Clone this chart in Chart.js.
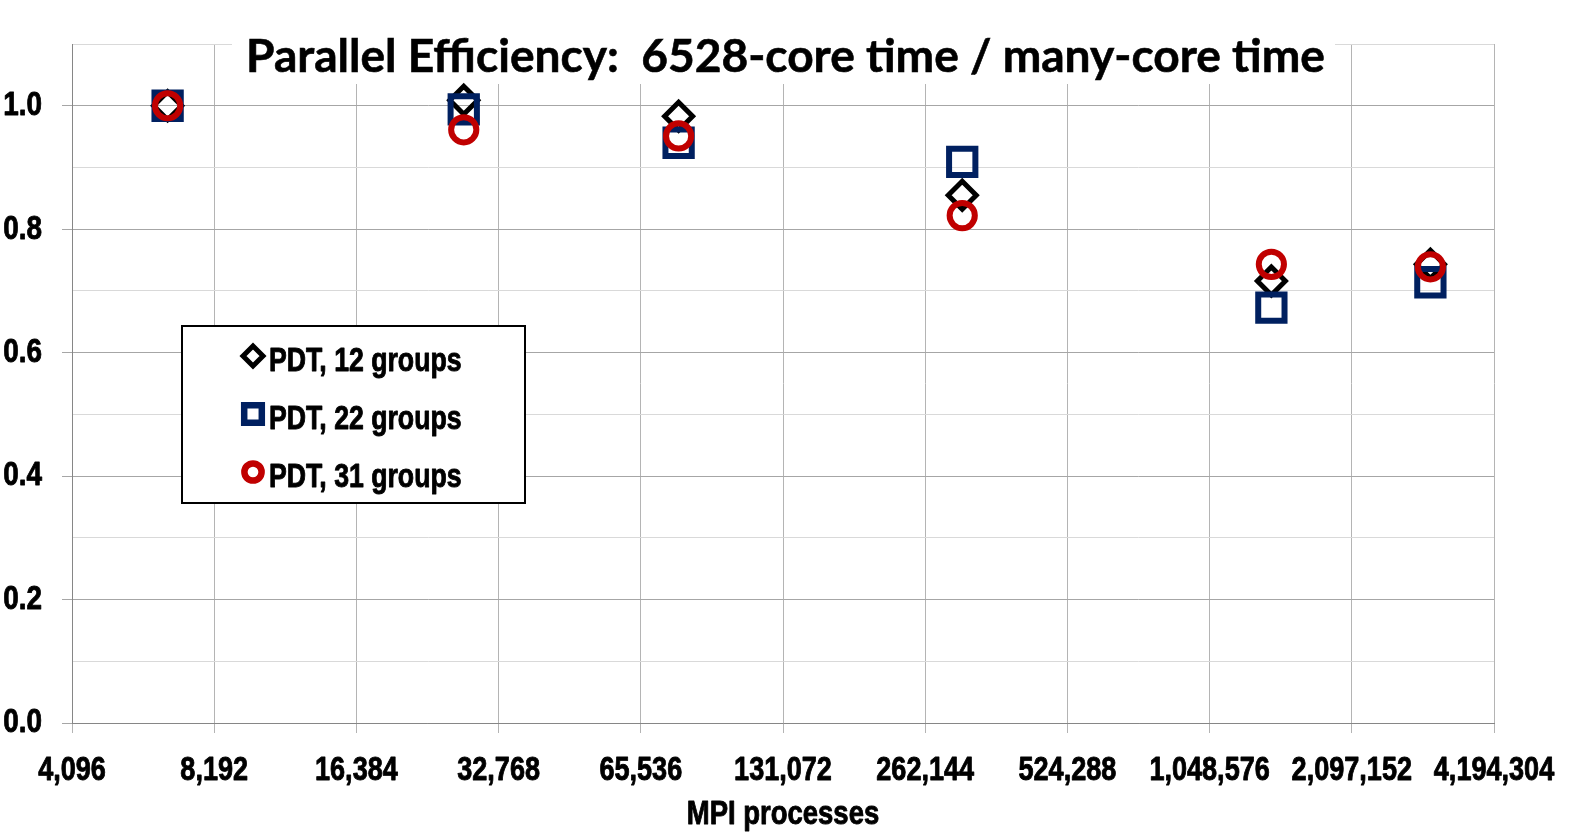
<!DOCTYPE html>
<html>
<head>
<meta charset="utf-8">
<script src="https://cdn.jsdelivr.net/npm/chart.js@4.4.1/dist/chart.umd.min.js"></script>
<style>
  html, body { margin: 0; padding: 0; background: #ffffff; }
  #wrap { width: 1572px; height: 835px; }
</style>
</head>
<body>
<div id="wrap"><canvas id="c" width="1572" height="835"></canvas></div>
<script>
// ---- data ----
const chartTitle = 'Parallel Efficiency:  6528-core time / many-core time';
const xAxisTitle = 'MPI processes';
const xTickValues = [4096, 8192, 16384, 32768, 65536, 131072, 262144, 524288, 1048576, 2097152, 4194304];
const yTickValues = [0, 0.1, 0.2, 0.3, 0.4, 0.5, 0.6, 0.7, 0.8, 0.9, 1.0, 1.1];
const mpiProcesses = [6528, 27648, 78800, 314000, 1417000, 3076000];
const seriesNames = ['PDT, 12 groups', 'PDT, 22 groups', 'PDT, 31 groups'];
const eff12 = [1.000, 1.009, 0.983, 0.855, 0.716, 0.743];
const eff22 = [1.000, 0.994, 0.940, 0.909, 0.673, 0.714];
const eff31 = [1.000, 0.961, 0.951, 0.822, 0.743, 0.739];

// Arial-Narrow look: Liberation Sans Bold compressed horizontally
const NARROW = "'Liberation Sans', Arial, sans-serif";
const NARROW_SX = 0.82;
(function () {
  const P = CanvasRenderingContext2D.prototype;
  const origFill = P.fillText, origMeasure = P.measureText, origStroke = P.strokeText;
  P.fillText = function (text, x, y, maxWidth) {
    if (this.font.indexOf('Liberation Sans') >= 0) {
      this.save();
      this.translate(x, y);
      this.scale(NARROW_SX, 1);
      origFill.call(this, text, 0, 0);
      this.strokeStyle = this.fillStyle;
      this.lineWidth = 0.9;
      this.lineJoin = 'round';
      origStroke.call(this, text, 0, 0);
      this.restore();
    } else if (maxWidth === undefined) {
      origFill.call(this, text, x, y);
    } else {
      origFill.call(this, text, x, y, maxWidth);
    }
  };
  P.measureText = function (text) {
    const m = origMeasure.call(this, text);
    if (this.font.indexOf('Liberation Sans') >= 0) {
      return {
        width: m.width * NARROW_SX,
        actualBoundingBoxLeft: m.actualBoundingBoxLeft * NARROW_SX,
        actualBoundingBoxRight: m.actualBoundingBoxRight * NARROW_SX,
        actualBoundingBoxAscent: m.actualBoundingBoxAscent,
        actualBoundingBoxDescent: m.actualBoundingBoxDescent,
        fontBoundingBoxAscent: m.fontBoundingBoxAscent,
        fontBoundingBoxDescent: m.fontBoundingBoxDescent
      };
    }
    return m;
  };
})();

const BLACK = '#000000', NAVY = '#002060', RED = '#C00000';

function pts(ys) { return mpiProcesses.map((x, i) => ({ x: x, y: ys[i] })); }
function isMajor(v) { return Math.round(v * 10) % 2 === 0; }

function drawMarker(ctx, style, x, y, r, lw, color) {
  ctx.save();
  ctx.strokeStyle = color;
  ctx.lineWidth = lw;
  ctx.fillStyle = '#ffffff';
  ctx.beginPath();
  if (style === 'rectRot') {
    ctx.moveTo(x - r, y); ctx.lineTo(x, y - r); ctx.lineTo(x + r, y); ctx.lineTo(x, y + r); ctx.closePath();
  } else if (style === 'rect') {
    ctx.rect(x - r, y - r, 2 * r, 2 * r);
  } else {
    ctx.arc(x, y, r, 0, Math.PI * 2);
  }
  ctx.fill();
  ctx.stroke();
  ctx.restore();
}

const overlayPlugin = {
  id: 'overlay',
  beforeDatasetsDraw(chart) {
    const ctx = chart.ctx;
    // title with white background box
    ctx.save();
    ctx.fillStyle = '#ffffff';
    ctx.fillRect(232, 30, 1103, 54);
    let size = 40;
    ctx.font = 'bold ' + size + 'px Lato, sans-serif';
    const w = ctx.measureText(chartTitle).width;
    size = size * 1079 / w;
    ctx.font = 'bold ' + size.toFixed(2) + 'px Lato, sans-serif';
    ctx.fillStyle = '#000000';
    ctx.textAlign = 'center';
    ctx.textBaseline = 'alphabetic';
    ctx.fillText(chartTitle, 785.5, 72);
    ctx.strokeStyle = '#000000';
    ctx.lineWidth = 0.6;
    ctx.strokeText(chartTitle, 785.5, 72);
    ctx.restore();

    // legend box
    ctx.save();
    ctx.fillStyle = '#ffffff';
    ctx.fillRect(182, 326, 343, 177);
    ctx.strokeStyle = '#000000';
    ctx.lineWidth = 2;
    ctx.strokeRect(182, 326, 343, 177);
    const styles = [['rectRot', 10, 5, BLACK], ['rect', 8.8, 6.5, NAVY], ['circle', 8.6, 6.5, RED]];
    const ys = [356, 414, 472];
    ctx.font = 'bold 32.5px ' + NARROW;
    ctx.textAlign = 'left';
    ctx.textBaseline = 'alphabetic';
    for (let i = 0; i < 3; i++) {
      const s = styles[i];
      drawMarker(ctx, s[0], 253, ys[i], s[1], s[2], s[3]);
      ctx.fillStyle = '#000000';
      ctx.fillText(seriesNames[i], 269, ys[i] + 15);
    }
    ctx.restore();
  }
};

const ctx = document.getElementById('c').getContext('2d');
new Chart(ctx, {
  type: 'scatter',
  data: {
    datasets: [
      { label: seriesNames[0], data: pts(eff12), pointStyle: 'rectRot', pointRadius: 14, pointHoverRadius: 14,
        borderColor: BLACK, backgroundColor: 'rgba(0,0,0,0)', borderWidth: 5, pointBorderWidth: 5, order: 2 },
      { label: seriesNames[1], data: pts(eff22), pointStyle: 'rect', pointRadius: 18.6, pointHoverRadius: 18.6,
        borderColor: NAVY, backgroundColor: 'rgba(0,0,0,0)', borderWidth: 6, pointBorderWidth: 6, order: 1 },
      { label: seriesNames[2], data: pts(eff31), pointStyle: 'circle', pointRadius: 12.6, pointHoverRadius: 12.6,
        borderColor: RED, backgroundColor: 'rgba(0,0,0,0)', borderWidth: 6, pointBorderWidth: 6, order: 0 }
    ]
  },
  options: {
    responsive: false,
    animation: false,
    events: [],
    layout: { padding: { top: 44, right: 78, left: 0, bottom: 0 } },
    plugins: { legend: { display: false }, title: { display: false }, tooltip: { enabled: false } },
    scales: {
      x: {
        type: 'logarithmic',
        min: 4096,
        max: 4194304,
        afterBuildTicks(scale) { scale.ticks = xTickValues.map(v => ({ value: v })); },
        afterFit(scale) { scale.height = 112; scale.paddingLeft = 0; scale.paddingRight = 0; },
        ticks: {
          autoSkip: false, maxRotation: 0, minRotation: 0,
          color: '#000000',
          font: { family: NARROW, size: 33, weight: 'bold' },
          padding: 18,
          callback: (v) => Number(v).toLocaleString('en-US')
        },
        grid: { color: '#b4b4b4', lineWidth: 1, tickLength: 10, tickColor: '#b4b4b4' },
        border: { color: '#868686', width: 1 },
        title: { display: true, text: xAxisTitle, color: '#000000',
                 font: { family: NARROW, size: 33.5, weight: 'bold' }, padding: { top: 0, bottom: 0 } }
      },
      y: {
        min: 0,
        max: 1.1,
        afterBuildTicks(scale) { scale.ticks = yTickValues.map(v => ({ value: v })); },
        afterFit(scale) { scale.width = 72; scale.paddingTop = 0; scale.paddingBottom = 0; },
        ticks: {
          color: '#000000',
          font: { family: NARROW, size: 34, weight: 'bold' },
          padding: 20,
          callback: (v) => isMajor(v) ? Number(v).toFixed(1) : ''
        },
        grid: {
          lineWidth: 1,
          tickLength: 10,
          color: (c) => (c.tick && isMajor(c.tick.value)) ? '#a6a6a6' : '#d9d9d9',
          tickColor: (c) => (c.tick && isMajor(c.tick.value)) ? '#a6a6a6' : 'rgba(0,0,0,0)'
        },
        border: { color: '#868686', width: 1 }
      }
    }
  },
  plugins: [overlayPlugin]
});
</script>
</body>
</html>
